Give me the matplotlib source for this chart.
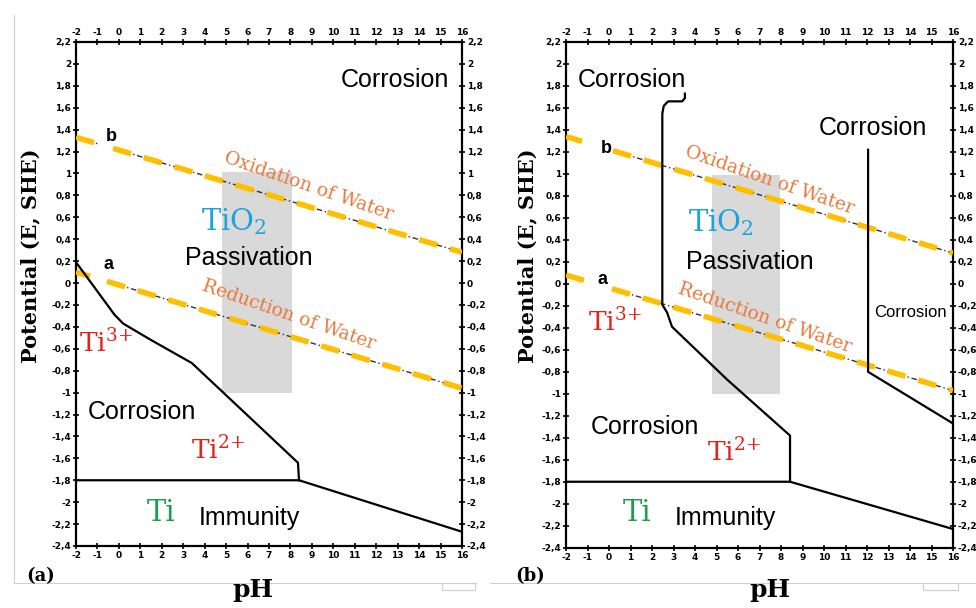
import numpy as np
import matplotlib.pyplot as plt
from matplotlib.patches import Rectangle
from matplotlib.lines import Line2D

plt.rcParams['lines.scale_dashes'] = False
plt.rcParams['mathtext.fontset'] = 'dejavuserif'

# ticks of the Pourbaix grid
ph_ticks = np.arange(-2, 17, 1)
e_ticks = np.round(np.arange(-2.4, 2.21, 0.2), 1) + 0.0

# water lines, E at pH -2 and 16
water_ph = [-2, 16]
p1_ox_E = [1.33, 0.28]
p1_red_E = [0.10, -0.96]
p2_ox_E = [1.34, 0.28]
p2_red_E = [0.08, -0.97]

# panel (a) boundaries
p1_upper_ph = [-2, -0.2, 0.2, 1.5, 3.4, 8.35, 8.4]
p1_upper_E = [0.19, -0.29, -0.37, -0.52, -0.73, -1.64, -1.80]
p1_immun_ph = [-2, 8.4, 16]
p1_immun_E = [-1.80, -1.80, -2.27]

# panel (b) boundaries
p2_left_ph = [3.53, 3.53, 3.40, 2.75, 2.55, 2.48, 2.48, 2.70, 2.93, 5.49, 8.42, 8.42]
p2_left_E = [1.73, 1.69, 1.66, 1.66, 1.62, 1.55, -0.19, -0.26, -0.39, -0.87, -1.38, -1.80]
p2_right_ph = [12.05, 12.05, 16]
p2_right_E = [1.22, -0.80, -1.27]
p2_immun_ph = [-2, 8.42, 16]
p2_immun_E = [-1.80, -1.80, -2.23]

# shaded band (pH range, E range)
p1_band = [4.82, 8.09, -1.0, 1.01]
p2_band = [4.79, 7.95, -1.0, 0.99]

GOLD = '#FFBF00'
ORANGE = '#E8793A'
RED = '#E2231A'
GREEN = '#1E9E4A'
CYAN = '#1BA3DF'
SANS = 'Liberation Sans'
SERIF = 'DejaVu Serif'


def comma(v):
    return f"{v:g}".replace('.', ',')


def setup_axes(ax):
    ax.set_xlim(-2, 16)
    ax.set_ylim(-2.4, 2.2)
    ax.set_xticks(ph_ticks)
    ax.set_yticks(e_ticks)
    ax.set_xticklabels([comma(v) for v in ph_ticks])
    ax.set_yticklabels([comma(v) for v in e_ticks])
    ax.tick_params(direction='inout', length=4, width=1.2, top=True, right=True,
                   labeltop=True, labelright=True, labelsize=6.5, pad=1.5)
    for t in ax.xaxis.get_major_ticks() + ax.yaxis.get_major_ticks():
        t.label1.set_fontweight('bold')
        t.label2.set_fontweight('bold')
    for s in ax.spines.values():
        s.set_linewidth(1.6)


def water_line(ax, E, gap):
    ph = np.array(water_ph, dtype=float)
    E = np.array(E, dtype=float)
    for lo, hi in [(-2, gap[0]), (gap[1], 16)]:
        x = np.array([lo, hi])
        y = np.interp(x, ph, E)
        ax.plot(x, y, color='#333333', lw=1.0, dashes=(4, 2, 1, 2), zorder=3)
        ax.plot(x, y, color=GOLD, lw=4, dashes=(13.5, 9.5), zorder=4)


def band(ax, b):
    ax.add_patch(Rectangle((b[0], b[2]), b[1] - b[0], b[3] - b[2],
                           facecolor='#d9d9d9', edgecolor='none', zorder=1))


def label(ax, x, y, s, **kw):
    ax.text(x, y, s, ha='center', va='center', zorder=6, **kw)


fig = plt.figure(figsize=(9.76, 6.08), dpi=100)
ax1 = fig.add_axes([76 / 976, 1 - 546 / 608, 386 / 976, 504 / 608])
ax2 = fig.add_axes([566 / 976, 1 - 547.7 / 608, 387 / 976, 505.7 / 608])

# ---- panel (a)
setup_axes(ax1)
band(ax1, p1_band)
ax1.plot(p1_upper_ph, p1_upper_E, color='k', lw=1.6, zorder=5)
ax1.plot(p1_immun_ph, p1_immun_E, color='k', lw=1.6, zorder=5)
water_line(ax1, p1_ox_E, (-0.88, -0.27))
water_line(ax1, p1_red_E, (-1.35, -0.55))
label(ax1, 12.86, 1.853, 'Corrosion', family=SANS, fontsize=18)
label(ax1, -0.36, 1.34, 'b', family=SANS, fontsize=13, fontweight='bold')
label(ax1, 8.84, 0.886, 'Oxidation of Water', family=SERIF, fontsize=13.5,
      color=ORANGE, rotation=-19)
label(ax1, 5.34, 0.56, 'TiO$_2$', family=SERIF, fontsize=21, color=CYAN)
label(ax1, 6.08, 0.23, 'Passivation', family=SANS, fontsize=18)
label(ax1, -0.5, 0.165, 'a', family=SANS, fontsize=13, fontweight='bold')
label(ax1, 7.9, -0.29, 'Reduction of Water', family=SERIF, fontsize=13.5,
      color=ORANGE, rotation=-19)
label(ax1, -0.6, -0.55, 'Ti$^{3{+}}$', family=SERIF, fontsize=19, color=RED)
label(ax1, 1.08, -1.18, 'Corrosion', family=SANS, fontsize=18)
label(ax1, 4.6, -1.52, 'Ti$^{2{+}}$', family=SERIF, fontsize=19, color=RED)
label(ax1, 1.97, -2.10, 'Ti', family=SERIF, fontsize=21, color=GREEN)
label(ax1, 6.08, -2.14, 'Immunity', family=SANS, fontsize=18)

# ---- panel (b)
setup_axes(ax2)
band(ax2, p2_band)
ax2.plot(p2_left_ph, p2_left_E, color='k', lw=1.6, zorder=5)
ax2.plot(p2_right_ph, p2_right_E, color='k', lw=1.6, zorder=5)
ax2.plot(p2_immun_ph, p2_immun_E, color='k', lw=1.6, zorder=5)
water_line(ax2, p2_ox_E, (-1.26, 0.19))
water_line(ax2, p2_red_E, (-1.12, 0.14))
label(ax2, 1.07, 1.855, 'Corrosion', family=SANS, fontsize=18)
label(ax2, 12.28, 1.42, 'Corrosion', family=SANS, fontsize=18)
label(ax2, -0.14, 1.227, 'b', family=SANS, fontsize=13, fontweight='bold')
label(ax2, 7.49, 0.945, 'Oxidation of Water', family=SERIF, fontsize=13.5,
      color=ORANGE, rotation=-19)
label(ax2, 5.21, 0.56, 'TiO$_2$', family=SERIF, fontsize=21, color=CYAN)
label(ax2, 6.56, 0.20, 'Passivation', family=SANS, fontsize=18)
label(ax2, -0.28, 0.036, 'a', family=SANS, fontsize=13, fontweight='bold')
label(ax2, 7.26, -0.31, 'Reduction of Water', family=SERIF, fontsize=13.5,
      color=ORANGE, rotation=-19)
label(ax2, 0.25, -0.345, 'Ti$^{3{+}}$', family=SERIF, fontsize=19, color=RED)
label(ax2, 14.0, -0.264, 'Corrosion', family=SANS, fontsize=12)
label(ax2, 1.67, -1.30, 'Corrosion', family=SANS, fontsize=18)
label(ax2, 5.8, -1.53, 'Ti$^{2{+}}$', family=SERIF, fontsize=19, color=RED)
label(ax2, 1.30, -2.08, 'Ti', family=SERIF, fontsize=21, color=GREEN)
label(ax2, 5.40, -2.13, 'Immunity', family=SANS, fontsize=18)

# axis titles and panel letters
for xl, xp in [(30, 253), (527, 770)]:
    fig.text(xl / 976, 1 - 256 / 608, 'Potential (E, SHE)', rotation=90,
             ha='center', va='center', family=SERIF, fontweight='bold', fontsize=15)
    fig.text(xp / 976, 1 - 590 / 608, 'pH', ha='center', va='center',
             family=SERIF, fontweight='bold', fontsize=18)
fig.text(41 / 976, 1 - 576 / 608, '(a)', ha='center', va='center',
         family=SERIF, fontweight='bold', fontsize=13)
fig.text(530 / 976, 1 - 576 / 608, '(b)', ha='center', va='center',
         family=SERIF, fontweight='bold', fontsize=13)

# faint page frame lines from the source figure
def fline(xs, ys):
    fig.add_artist(Line2D([x / 976 for x in xs], [1 - y / 608 for y in ys],
                          color='#cfcfcf', lw=0.8))

fline([14, 14], [15, 583])
fline([14, 476], [583, 583])
fline([442, 442, 475, 475], [583, 590, 590, 583])
fline([490, 976], [583, 583])
fline([923, 923, 958, 958], [583, 590, 590, 583])

fig.savefig('out.png', dpi=100)
